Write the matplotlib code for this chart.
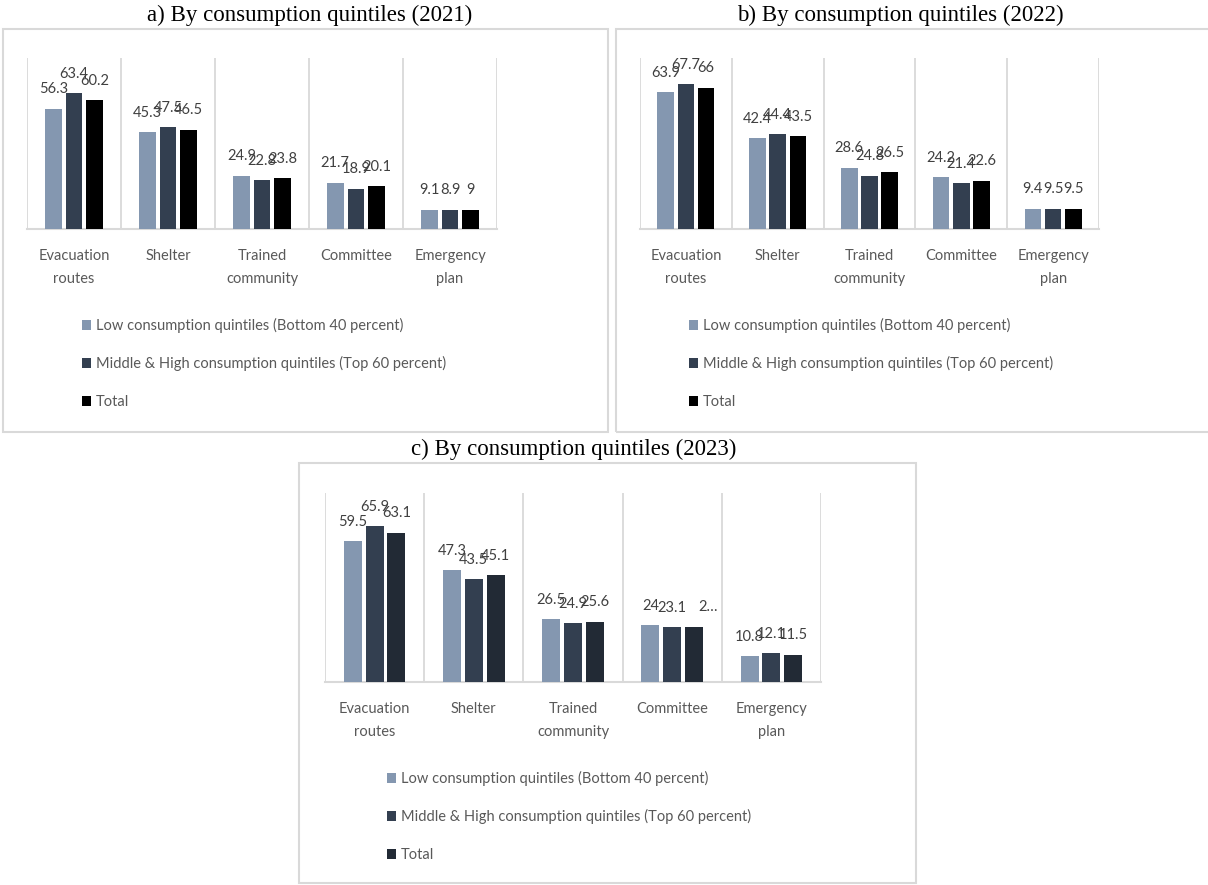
import matplotlib.pyplot as plt
from matplotlib.patches import Rectangle, Patch

# figure size in pixels (dpi 100)
W, H = 1208, 885

# ---------------------------------------------------------------
# data
# ---------------------------------------------------------------
categories = ["Evacuation\nroutes", "Shelter", "Trained\ncommunity",
              "Committee", "Emergency\nplan"]
series_names = ["Low consumption quintiles (Bottom 40 percent)",
                "Middle & High consumption quintiles (Top 60 percent)",
                "Total"]

low_2021 = [56.3, 45.3, 24.9, 21.7, 9.1]
mid_2021 = [63.4, 47.5, 22.8, 18.9, 8.9]
tot_2021 = [60.2, 46.5, 23.8, 20.1, 9.0]

low_2022 = [63.9, 42.4, 28.6, 24.2, 9.4]
mid_2022 = [67.7, 44.4, 24.8, 21.4, 9.5]
tot_2022 = [66.0, 43.5, 26.5, 22.6, 9.5]

low_2023 = [59.5, 47.3, 26.5, 24.0, 10.8]
mid_2023 = [65.9, 43.5, 24.9, 23.1, 12.1]
tot_2023 = [63.1, 45.1, 25.6, 23.4, 11.5]

# the label of the 2023 committee total is cut short in the chart
short_labels_2023 = {(2, 3): "2\u2026"}

# ---------------------------------------------------------------
# style
# ---------------------------------------------------------------
plt.rcParams["font.family"] = "Lato"
GREY_TXT = "#595959"
LABEL_TXT = "#404040"
GRID = "#d9d9d9"
C_LOW = "#8497b0"
C_MID = "#333f50"

panels = [
    dict(title="a) By consumption quintiles (2021)", data=(low_2021, mid_2021, tot_2021),
         colors=(C_LOW, C_MID, "#000000"), plot=(27, 58, 497, 229),
         frame=(3, 29, 608, 432), title_xy=(310, 15), legend_x=82, short={}),
    dict(title="b) By consumption quintiles (2022)", data=(low_2022, mid_2022, tot_2022),
         colors=(C_LOW, C_MID, "#000000"), plot=(640, 58, 1099, 229),
         frame=(616, 29, 1215, 432), title_xy=(900, 15), legend_x=689, short={}),
    dict(title="c) By consumption quintiles (2023)", data=(low_2023, mid_2023, tot_2023),
         colors=(C_LOW, C_MID, "#222a35"), plot=(325, 493, 821, 682),
         frame=(299, 463, 916, 883), title_xy=(574, 449), legend_x=387,
         short=short_labels_2023),
]


def fig_box(x0, y0, x1, y1):
    return [x0 / W, 1 - y1 / H, (x1 - x0) / W, (y1 - y0) / H]


fig = plt.figure(figsize=(W / 100, H / 100), dpi=100)

bar_w = 0.18
offsets = [-0.22, 0.0, 0.22]

for p in panels:
    # outer frame of each chart
    fx0, fy0, fx1, fy1 = p["frame"]
    fig.patches.append(Rectangle((fx0 / W, 1 - fy1 / H), (fx1 - fx0) / W, (fy1 - fy0) / H,
                                 transform=fig.transFigure, fill=False,
                                 edgecolor=GRID, linewidth=1.5))
    tx, ty = p["title_xy"]
    fig.text(tx / W, 1 - ty / H, p["title"], family="Liberation Serif",
             fontsize=16.5, ha="center", va="center", color="black")

    ax = fig.add_axes(fig_box(*p["plot"]))
    x = range(len(categories))
    for s, (vals, col, off) in enumerate(zip(p["data"], p["colors"], offsets)):
        xs = [i + off for i in x]
        ax.bar(xs, vals, width=bar_w, color=col, zorder=3)
        for i, (xi, v) in enumerate(zip(xs, vals)):
            txt = p["short"].get((s, i), f"{v:g}")
            dx = 10 if (s, i) in p["short"] else 0
            ax.annotate(txt, (xi, v), xytext=(dx, 9.0), textcoords="offset points",
                        ha="center", va="bottom", fontsize=10.5, color=LABEL_TXT)

    # category separators and baseline
    ax.vlines([i - 0.5 for i in range(len(categories) + 1)], 0, 80,
              color=GRID, linewidth=1.3, zorder=1)
    ax.set_xlim(-0.5, len(categories) - 0.5)
    ax.set_ylim(0, 80)
    for side in ["top", "left", "right"]:
        ax.spines[side].set_visible(False)
    ax.spines["bottom"].set_color(GRID)
    ax.spines["bottom"].set_linewidth(1.5)
    ax.set_yticks([])
    ax.set_xticks(list(x))
    ax.set_xticklabels(categories, fontsize=10.5, color=GREY_TXT, linespacing=1.78)
    ax.tick_params(axis="x", length=0, pad=14.5)
    ax.patch.set_alpha(0)

    # legend stacked below the chart
    handles = [Patch(facecolor=c) for c in p["colors"]]
    bx = p["legend_x"] / W
    by = 1 - (p["plot"][3] + 89) / H
    fig.legend(handles, series_names, loc="upper left", bbox_to_anchor=(bx, by),
               frameon=False, fontsize=10.5, labelcolor=GREY_TXT,
               handlelength=0.65, handleheight=0.65, handletextpad=0.3,
               labelspacing=1.6, borderpad=0, borderaxespad=0)

fig.savefig("out.png", dpi=100, facecolor="white")
